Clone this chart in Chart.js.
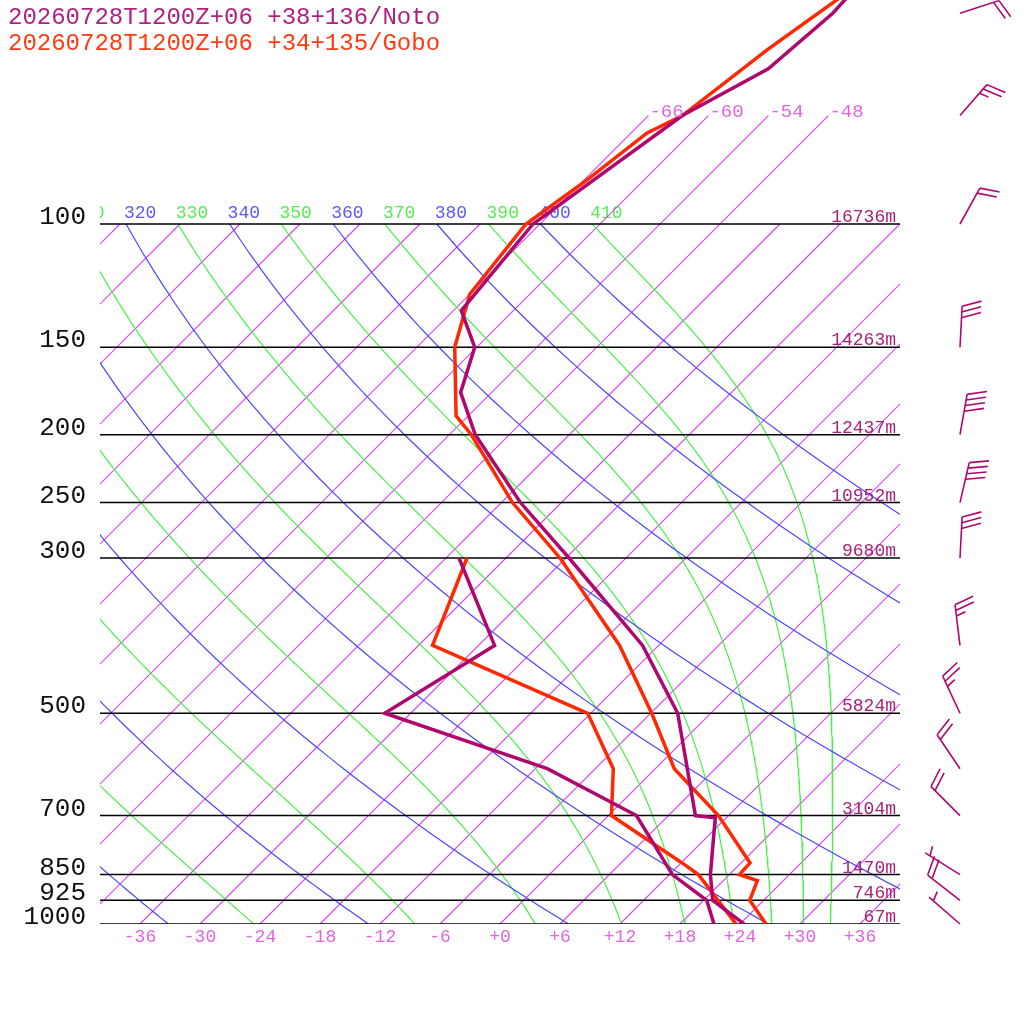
<!DOCTYPE html>
<html><head><meta charset="utf-8">
<script src="https://cdn.jsdelivr.net/npm/chart.js@4.4.0/dist/chart.umd.min.js"></script>
<style>html,body{margin:0;padding:0;background:#fff}#wrap{width:1024px;height:1024px;position:relative}</style>
</head><body><div id="wrap"><canvas id="c" width="1024" height="1024"></canvas></div>
<script>
// ---------- titles ----------
const titleLines = ['20260728T1200Z+06 +38+136/Noto', '20260728T1200Z+06 +34+135/Gobo'];

// ---------- Noto profile (hPa, degC) ----------
const notoTP = [45, 50, 60, 70, 100, 133, 150, 174, 200, 250, 300, 400, 500, 700, 705, 850, 925, 1000];
const notoT  = [-58.1, -57.8, -58.7, -62.6, -66.7, -65.2, -60.2, -57.1, -51.4, -40.1, -29.7, -13.6, -3.3, 8.7, 10.9, 16.1, 18.9, 24.4];
const notoTdP = [300, 400, 500, 600, 700, 850, 925, 1000];
const notoTd  = [-40.7, -28.4, -32.6, -10.8, 2.8, 12.3, 18.3, 21.4];

// ---------- Gobo profile ----------
const goboTP = [45, 56.4, 70, 74.1, 86.5, 100, 126, 150, 188, 200, 250, 300, 400, 500, 600, 700, 818, 850, 867, 925, 1000];
const goboT  = [-58.0, -60.7, -62.6, -64.4, -65.7, -67.4, -66.0, -62.2, -55.2, -51.8, -40.9, -30.6, -15.9, -5.9, 1.9, 11.0, 18.9, 19.0, 21.4, 22.6, 26.6];
const goboTdP = [300, 400, 500, 600, 700, 818, 850, 1000];
const goboTd  = [-39.9, -34.6, -12.3, -4.2, 0.3, 12.1, 14.9, 23.6];

// ---------- levels, heights (Noto) ----------
const levelP = [100, 150, 200, 250, 300, 500, 700, 850, 925, 1000];
const levelH = [16736, 14263, 12437, 10952, 9680, 5824, 3104, 1470, 746, 67];

// ---------- winds (Noto) ----------
const windP   = [50, 70, 100, 150, 200, 250, 300, 400, 500, 600, 700, 850, 925, 1000];
const windDir = [72, 41, 29, 3, 10, 13, 3, 353, 335, 326, 315, 302, 308, 311];
const windKt  = [20, 25, 20, 30, 40, 40, 30, 25, 25, 20, 20, 5, 20, 5];

// ---------- axis tick labels ----------
const tempTicks = [-36, -30, -24, -18, -12, -6, 0, 6, 12, 18, 24, 30, 36];
const topIsoLabels = [-66, -60, -54, -48];
const dryThetas = [240, 260, 280, 300, 320, 340, 360, 380, 400];
const moistThetas = [250, 270, 290, 310, 330, 350, 370, 390, 410];

// ---------- colours ----------
const NOTO = 'rgb(176,7,111)', GOBO = 'rgb(255,40,0)';
const ISO = 'rgb(212,76,232)', ISOLBL = 'rgb(226,100,226)', DRY = 'rgb(72,72,255)', MOIST = 'rgb(72,240,72)';

const SKEW = 70; // degC per decade of pressure
const skewX = (t, p) => t + SKEW * Math.log10(1000 / p);
const prof = (P, T) => P.map((p, i) => ({x: skewX(T[i], p), y: p}));

// background reference lines
const Rd = 287.04, Cp = 1005.7, Lv = 2.501e6, EPS = 0.622, KAP = 0.2857;
function dryLine(th) {
  const pts = [];
  for (let p = 100; p <= 1000; p += 10) pts.push({x: skewX(th * Math.pow(p / 1000, KAP) - 273.15, p), y: p});
  return pts;
}
function moistRate(T, lnp) {
  const p = Math.exp(lnp), tc = T - 273.15;
  const es = 6.112 * Math.exp(17.67 * tc / (tc + 243.5));
  const rs = EPS * es / (p - es);
  return (Rd * T + Lv * rs) / (Cp + Lv * Lv * rs * EPS / (Rd * T * T));
}
function moistLine(th) {
  const pts = [];
  let T = th * Math.pow(0.1, KAP), l = Math.log(100);
  const n = 180, h = (Math.log(1000) - l) / n;
  for (let i = 0; i <= n; i++) {
    pts.push({x: skewX(T - 273.15, Math.exp(l)), y: Math.exp(l)});
    const k1 = moistRate(T, l), k2 = moistRate(T + h * k1 / 2, l + h / 2),
          k3 = moistRate(T + h * k2 / 2, l + h / 2), k4 = moistRate(T + h * k3, l + h);
    T += h * (k1 + 2 * k2 + 2 * k3 + k4) / 6; l += h;
  }
  return pts;
}

const datasets = [];
const line = (data, color, width, order) => ({data, borderColor: color, backgroundColor: color, borderWidth: width,
  showLine: true, pointRadius: 0, pointHoverRadius: 0, pointBorderWidth: 0, fill: false, tension: 0, order});
datasets.push(line(prof(notoTdP, notoTd), NOTO, 3.5, 0));
datasets.push(line(prof(notoTP, notoT), NOTO, 3.5, 0));
datasets.push(line(prof(goboTdP, goboTd), GOBO, 3.5, 0));
datasets.push(line(prof(goboTP, goboT), GOBO, 3.5, 0));
levelP.forEach(p => datasets.push(line([{x: -40, y: p}, {x: 40, y: p}], 'rgb(0,0,0)', 1.5, 1)));
dryThetas.forEach(th => datasets.push(line(dryLine(th), DRY, 1.2, 2)));
moistThetas.forEach(th => datasets.push(line(moistLine(th), MOIST, 1.2, 2)));
const isoTemps = [];
for (let t = -108; t <= 36; t += 6) isoTemps.push(t);
isoTemps.forEach(t => {
  const top = topIsoLabels.includes(t) ? 70 : 100;
  datasets.push(line([{x: skewX(t, 1000), y: 1000}, {x: skewX(t, top), y: top}], ISO, 1.2, 3));
});

const PMIN = Math.pow(10, 3 - 924 / 700);

const textPlugin = {
  id: 'skewtext',
  beforeDatasetsDraw(chart) {
    const ctx = chart.ctx, xs = chart.scales.x, ys = chart.scales.y, ca = chart.chartArea;
    ctx.save();
    ctx.beginPath(); ctx.rect(ca.left, 0, ca.right - ca.left, ca.bottom); ctx.clip();
    ctx.font = '18px "Liberation Mono"'; ctx.textAlign = 'left'; ctx.textBaseline = 'alphabetic';
    const y100 = ys.getPixelForValue(100) - 6;
    dryThetas.forEach(th => {
      ctx.fillStyle = 'rgb(90,90,255)';
      ctx.fillText(String(th), xs.getPixelForValue(skewX(th * Math.pow(0.1, KAP) - 273.15, 100)) - 2, y100);
    });
    moistThetas.forEach(th => {
      const p0 = moistLine(th)[0];
      ctx.fillStyle = 'rgb(85,238,85)';
      ctx.fillText(String(th), xs.getPixelForValue(p0.x) - 2, y100);
    });
    ctx.restore();
  },
  afterDatasetsDraw(chart) {
    const ctx = chart.ctx, xs = chart.scales.x, ys = chart.scales.y;
    ctx.save();
    ctx.textBaseline = 'alphabetic';
    ctx.font = '24px "Liberation Mono"'; ctx.textAlign = 'left';
    ctx.fillStyle = 'rgb(176,32,128)'; ctx.fillText(titleLines[0], 8, 24);
    ctx.fillStyle = 'rgb(255,58,16)'; ctx.fillText(titleLines[1], 8, 50);
    ctx.font = '26px "Liberation Mono"'; ctx.textAlign = 'right'; ctx.fillStyle = '#111';
    levelP.forEach(p => ctx.fillText(String(p), 86, ys.getPixelForValue(p)));
    ctx.font = '18px "Liberation Mono"'; ctx.fillStyle = 'rgb(168,32,122)';
    levelP.forEach((p, i) => ctx.fillText(levelH[i] + 'm', 896, ys.getPixelForValue(p) - 2));
    ctx.textAlign = 'center'; ctx.fillStyle = ISOLBL;
    tempTicks.forEach(t => ctx.fillText((t >= 0 ? '+' : '') + t, xs.getPixelForValue(t), ys.getPixelForValue(1000) + 18));
    ctx.textAlign = 'left'; ctx.font = '19px "Liberation Mono"';
    topIsoLabels.forEach(t => ctx.fillText(String(t), xs.getPixelForValue(skewX(t, 70)) + 1, ys.getPixelForValue(70) + 1));
    ctx.strokeStyle = NOTO; ctx.lineWidth = 1.6; ctx.lineCap = 'butt';
    const bxBase = 960;
    windP.forEach((p, i) => {
      const y0 = ys.getPixelForValue(p);
      const d = windDir[i] * Math.PI / 180, ux = Math.sin(d), uy = -Math.cos(d);
      const L = 41, tx = bxBase + ux * L, ty = y0 + uy * L;
      const b = (windDir[i] + 72) * Math.PI / 180, bx = Math.sin(b), by = -Math.cos(b);
      ctx.beginPath(); ctx.moveTo(bxBase, y0); ctx.lineTo(tx, ty);
      const nl = Math.floor(windKt[i] / 10), ns = (windKt[i] % 10) >= 5 ? 1 : 0;
      let pos = (nl === 0 && ns) ? 1 : 0; const sp = 5.7;
      for (let k = 0; k < nl; k++, pos++) {
        const px = tx - ux * sp * pos, py = ty - uy * sp * pos;
        ctx.moveTo(px, py); ctx.lineTo(px + bx * 20, py + by * 20);
      }
      if (ns) { const px = tx - ux * sp * pos, py = ty - uy * sp * pos; ctx.moveTo(px, py); ctx.lineTo(px + bx * 10, py + by * 10); }
      ctx.stroke();
    });
    ctx.restore();
  }
};

new Chart(document.getElementById('c'), {
  type: 'scatter',
  data: {datasets},
  options: {
    responsive: false, animation: false, devicePixelRatio: 1,
    layout: {padding: {left: 100, right: 124, top: 0, bottom: 100}},
    plugins: {legend: {display: false}, tooltip: {enabled: false}, title: {display: false}, colors: {enabled: false}},
    events: [],
    scales: {
      x: {type: 'linear', min: -40, max: 40, display: false},
      y: {type: 'logarithmic', min: PMIN, max: 1000, reverse: true, display: false}
    }
  },
  plugins: [textPlugin]
});
</script></body></html>
